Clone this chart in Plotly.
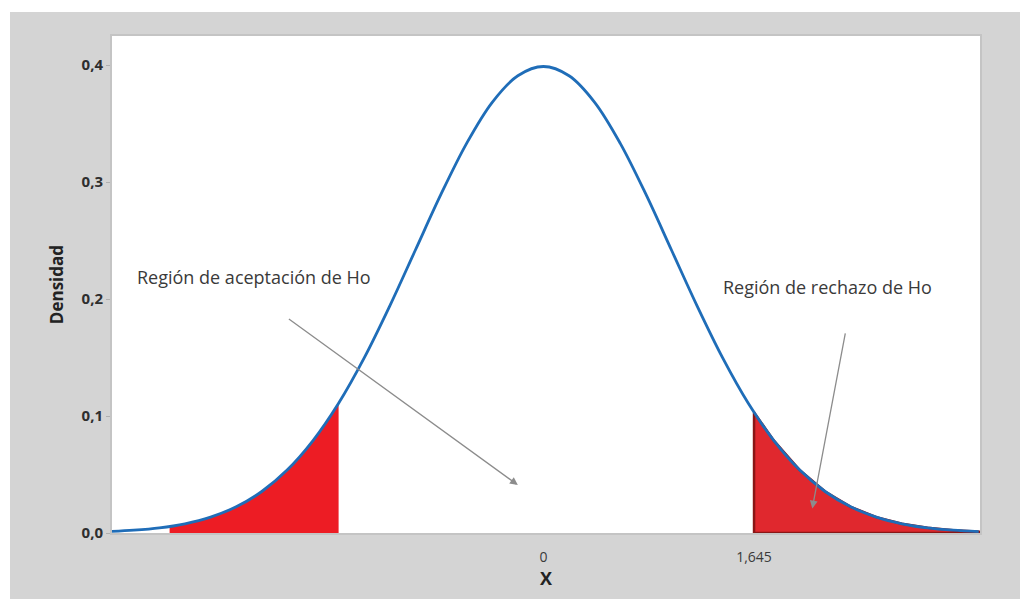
import plotly.graph_objects as go

curve_x = [-3.4, -3.2, -3.0, -2.8, -2.6, -2.4, -2.2, -2.0, -1.8, -1.6, -1.4, -1.2, -1.0,
           -0.8, -0.6, -0.4, -0.2, 0.0, 0.2, 0.4, 0.6, 0.8, 1.0, 1.2, 1.4, 1.6, 1.8,
           2.0, 2.2, 2.4, 2.6, 2.8, 3.0, 3.2, 3.4]
curve_y = [0.0012, 0.0024, 0.0044, 0.0079, 0.0136, 0.0224, 0.0355, 0.0540, 0.0790, 0.1109,
           0.1497, 0.1942, 0.2420, 0.2897, 0.3332, 0.3683, 0.3910, 0.3989, 0.3910, 0.3683,
           0.3332, 0.2897, 0.2420, 0.1942, 0.1497, 0.1109, 0.0790, 0.0540, 0.0355, 0.0224,
           0.0136, 0.0079, 0.0044, 0.0024, 0.0012]

# shaded tails
left_tail_x = [-2.92, -2.8, -2.6, -2.4, -2.2, -2.0, -1.8, -1.6]
left_tail_y = [0.0056, 0.0079, 0.0136, 0.0224, 0.0355, 0.0540, 0.0790, 0.1109]
right_tail_x = [1.645, 1.8, 2.0, 2.2, 2.4, 2.6, 2.8, 3.0, 3.2, 3.4]
right_tail_y = [0.1031, 0.0790, 0.0540, 0.0355, 0.0224, 0.0136, 0.0079, 0.0044, 0.0024, 0.0012]

x_ticks = [0, 1.645]
x_tick_text = ["0", "1,645"]
y_ticks = [0.0, 0.1, 0.2, 0.3, 0.4]

font = "Open Sans, Noto Sans, sans-serif"

fig = go.Figure()

fig.add_trace(go.Scatter(
    x=left_tail_x, y=left_tail_y, mode="lines", line=dict(width=0, shape="spline"),
    fill="tozeroy", fillcolor="#ED1C24", hoverinfo="skip"))

# right tail as closed polygon so it gets the dark outline
rx = right_tail_x + [right_tail_x[-1], right_tail_x[0], right_tail_x[0]]
ry = right_tail_y + [0, 0, right_tail_y[0]]
fig.add_trace(go.Scatter(
    x=rx, y=ry, mode="lines", line=dict(width=2.5, color="#8A1616"),
    fill="toself", fillcolor="#E0282E", hoverinfo="skip"))

fig.add_trace(go.Scatter(
    x=curve_x, y=curve_y, mode="lines",
    line=dict(color="#1F6DB8", width=2.8, shape="spline")))

arrow = dict(showarrow=True, arrowhead=2, arrowsize=1.2, arrowwidth=1.3,
             arrowcolor="#8C8C8C", xref="x", yref="y", axref="x", ayref="y", text="")
fig.add_annotation(x=-0.2, y=0.041, ax=-2.0, ay=0.184, **arrow)
fig.add_annotation(x=2.10, y=0.021, ax=2.36, ay=0.172, **arrow)

fig.add_annotation(x=-2.26, y=0.219, text="Región de aceptación de Ho", showarrow=False,
                   font=dict(family=font, size=18, color="#3A3A3A"))
fig.add_annotation(x=2.215, y=0.210, text="Región de rechazo de Ho", showarrow=False,
                   font=dict(family=font, size=18, color="#3A3A3A"))

# grey frame with white strip at top and left
fig.add_shape(type="rect", xref="paper", yref="paper", x0=-0.2, x1=-0.1175, y0=-0.3, y1=1.2,
              fillcolor="white", line_width=0, layer="below")
fig.add_shape(type="rect", xref="paper", yref="paper", x0=-0.2, x1=1.2, y0=1.0483, y1=1.2,
              fillcolor="white", line_width=0, layer="below")

fig.update_layout(
    width=1020, height=599,
    margin=dict(l=112, r=40, t=36, b=66),
    paper_bgcolor="#D4D4D4", plot_bgcolor="white",
    showlegend=False, separators=",.",
    font=dict(family=font, color="#333333"),
)
fig.update_xaxes(
    range=[-3.37, 3.41], tickvals=x_ticks, ticktext=x_tick_text,
    showgrid=False, zeroline=False, showline=True, mirror=True,
    linecolor="#C4C4C4", linewidth=2, ticks="", ticklabelstandoff=10,
    tickfont=dict(size=14, color="#3A3A3A"),
    title=dict(text="X", font=dict(size=18, color="#222222", weight="bold"), standoff=0))
fig.update_yaxes(
    range=[0, 0.425], tickvals=y_ticks, tickformat=".1f",
    showgrid=False, zeroline=False, showline=True, mirror=True,
    linecolor="#C4C4C4", linewidth=2, ticks="outside", ticklen=4, tickcolor="#B0B0B0",
    tickfont=dict(size=15, color="#2E2E2E", weight="bold"),
    title=dict(text="Densidad", font=dict(size=17, color="#222222", weight="bold"), standoff=14))

fig.write_html("out.html", config={"displayModeBar": False},
               post_script="document.body.style.margin='0px';")
